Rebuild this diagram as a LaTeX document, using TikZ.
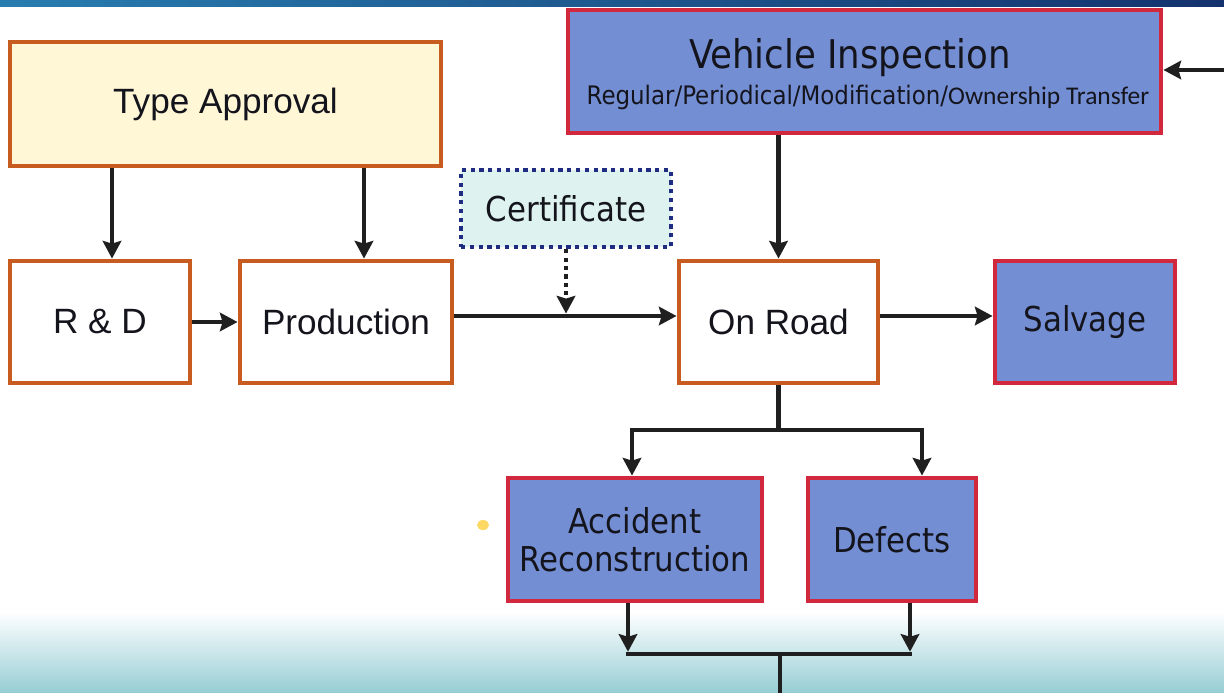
\documentclass[tikz,border=0pt]{standalone}
\usepackage{fontspec}
\setmainfont{Liberation Sans}
\newfontfamily\tah{DejaVu Sans Condensed}
\newfontfamily\calib{Carlito}
\usetikzlibrary{arrows.meta}
\definecolor{orbord}{RGB}{200,92,32}
\definecolor{tafill}{RGB}{255,247,214}
\definecolor{bluefill}{RGB}{116,142,212}
\definecolor{redbord}{RGB}{210,40,62}
\definecolor{certfill}{RGB}{222,243,240}
\definecolor{navy}{RGB}{30,45,130}
\definecolor{bandl}{RGB}{40,125,175}
\definecolor{bandr}{RGB}{20,50,110}
\definecolor{teal}{RGB}{150,205,212}
\definecolor{inktext}{RGB}{20,20,28}
\tikzset{
  obox/.style={draw=orbord, line width=2.8pt, fill=white, text=inktext,
    font=\fontsize{20pt}{24pt}\selectfont, inner sep=0pt},
  bbox/.style={draw=redbord, line width=2.8pt, fill=bluefill, text=inktext,
    font=\tah\fontsize{19.5pt}{21.5pt}\selectfont, align=center, inner sep=0pt},
  arr/.style={draw=black!88, line width=2.7pt,
    -{Stealth[length=10pt,width=10.5pt,inset=1.5pt]}},
  plain/.style={draw=black!88, line width=2.7pt},
  dotarr/.style={draw=black!88, line width=2.7pt, dash pattern=on 2.4pt off 2.4pt,
    -{Stealth[length=10pt,width=10.5pt,inset=1.5pt]}},
}
\begin{document}
\begin{tikzpicture}[x=0.02cm,y=-0.02cm]
\useasboundingbox (0,0) rectangle (1224,693);
\fill[white] (0,0) rectangle (1224,693);
\shade[top color=white, bottom color=teal] (0,612) rectangle (1224,693);
\shade[left color=bandl, right color=bandr] (0,0) rectangle (1224,6);
\fill[yellow!55!orange!60] (483,525) ellipse (6 and 5);
% nodes
\node[obox, fill=tafill, minimum width=431*0.02cm, minimum height=124*0.02cm] (ta) at (225.5,104) {Type Approval};
\node[bbox, minimum width=593*0.02cm, minimum height=123*0.02cm] (vi) at (864.5,71.5) {};
\node[font=\tah\fontsize{22.5pt}{24pt}\selectfont, text=inktext] (vit) at (850,58) {Vehicle Inspection};
\node[font=\fontsize{14.5pt}{16pt}\selectfont, text=inktext] (vis) at (868,97) {\tah Regular/Periodical/Modification/\calib Ownership Transfer};
\node[draw=navy, line width=2.4pt, dash pattern=on 2.4pt off 2.6pt, fill=certfill,
  minimum width=210*0.02cm, minimum height=77*0.02cm, text=inktext,
  font=\tah\fontsize{19.5pt}{22pt}\selectfont] (cert) at (566,208.5) {Certificate};
\node[obox, minimum width=180*0.02cm, minimum height=122*0.02cm] (rd) at (100,322) {R \& D};
\node[obox, minimum width=212*0.02cm, minimum height=122*0.02cm] (prod) at (346,322) {Production};
\node[obox, minimum width=199*0.02cm, minimum height=122*0.02cm] (road) at (778.5,322) {On Road};
\node[bbox, minimum width=180*0.02cm, minimum height=122*0.02cm] (salv) at (1085,322) {Salvage};
\node[bbox, minimum width=254*0.02cm, minimum height=123*0.02cm] (acc) at (635,539.5) {Accident\\Reconstruction};
\node[bbox, minimum width=168*0.02cm, minimum height=123*0.02cm] (def) at (892,539.5) {Defects};
% helper coordinates
\coordinate (c1) at (112,0);
\coordinate (c2) at (364,0);
\coordinate (h) at (0,316);
\coordinate (re) at (1224,70);
\coordinate (s) at (0,430);
\coordinate (ax) at (632,0);
\coordinate (dx) at (922,0);
\coordinate (b) at (0,654);
\coordinate (ab) at (628,0);
\coordinate (db) at (910,0);
\coordinate (bot) at (780,693);
% connectors
\draw[arr] (ta.south -| c1) -- (rd.north -| c1);
\draw[arr] (ta.south -| c2) -- (prod.north -| c2);
\draw[arr] (rd.east) -- (prod.west);
\draw[arr] (prod.east |- h) -- (road.west |- h);
\draw[dotarr] (cert.south) -- ([yshift=1.4pt]cert.south |- h);
\draw[arr] (vi.south -| road.north) -- (road.north);
\draw[arr] (road.east |- h) -- (salv.west |- h);
\draw[arr] (re) -- (vi.east |- re);
\draw[arr] (road.south) -- (road.south |- s) -| (ax |- acc.north);
\draw[arr] (road.south |- s) -| (dx |- def.north);
\draw[arr] (ab |- acc.south) -- ([yshift=1.3pt]ab |- b);
\draw[arr] (db |- def.south) -- ([yshift=1.3pt]db |- b);
\draw[plain] ([xshift=-1.35pt]ab |- b) -- ([xshift=1.35pt]db |- b);
\draw[plain] (bot |- b) -- (bot);
\end{tikzpicture}
\end{document}
